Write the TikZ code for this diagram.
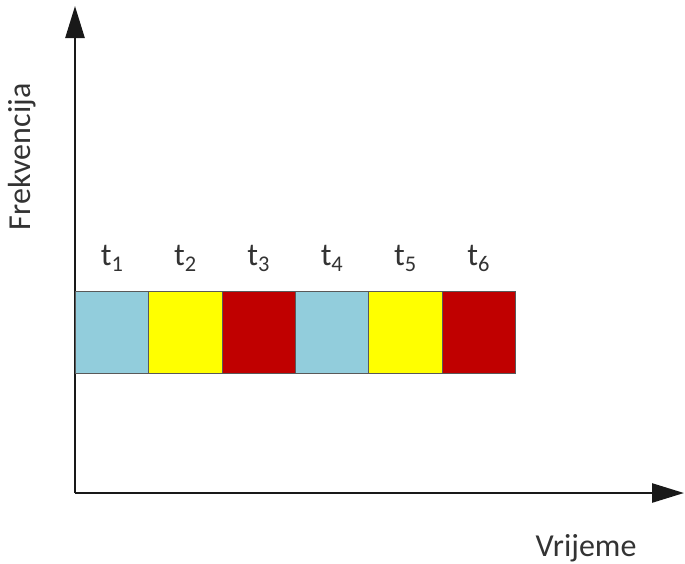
\documentclass[tikz,border=0pt]{standalone}
\usepackage{fontspec}
\setmainfont{Carlito}
\usetikzlibrary{arrows.meta}

\definecolor{slotblue}{RGB}{146,205,220}
\definecolor{slotyellow}{RGB}{255,255,0}
\definecolor{slotred}{RGB}{192,0,0}

\def\slotw{73.3}

\begin{document}
\begin{tikzpicture}[x=1pt,y=-1pt, node distance=74pt]
        \tikzstyle{axis}=[line width=2.6pt, draw=black!90, -{Triangle[length=32pt,width=19pt]}]
        \tikzstyle{slot}=[draw=black!65, line width=1pt, minimum width=\slotw pt, minimum height=82pt, inner sep=0pt, anchor=north west]
        \tikzstyle{annot}=[text=black!80, font=\fontsize{32}{34}\selectfont, inner sep=0pt]

        \useasboundingbox (0,0) rectangle (685,563);

        % axes
        \coordinate (O) at (75,493);
        \coordinate (ytop) at (75,6);
        \coordinate (xend) at (684,493);
        \draw[axis] (O) -- (ytop);
        \draw[axis] (O) -- (xend);

        % time slots
        \foreach \name / \col in {1/slotblue,2/slotyellow,3/slotred,4/slotblue,5/slotyellow,6/slotred}
            \node[slot, fill=\col] (S-\name) at ({75+(\name-1)*\slotw},291) {};

        \foreach \name in {1,...,6}
            \node[annot, above of=S-\name] (T-\name) {t\textsubscript{\name}};

        \node[annot, rotate=90] (ylab) at (22,157) {Frekvencija};
        \node[annot] (xlab) at (586,548) {Vrijeme};
    \end{tikzpicture}
\end{document}
